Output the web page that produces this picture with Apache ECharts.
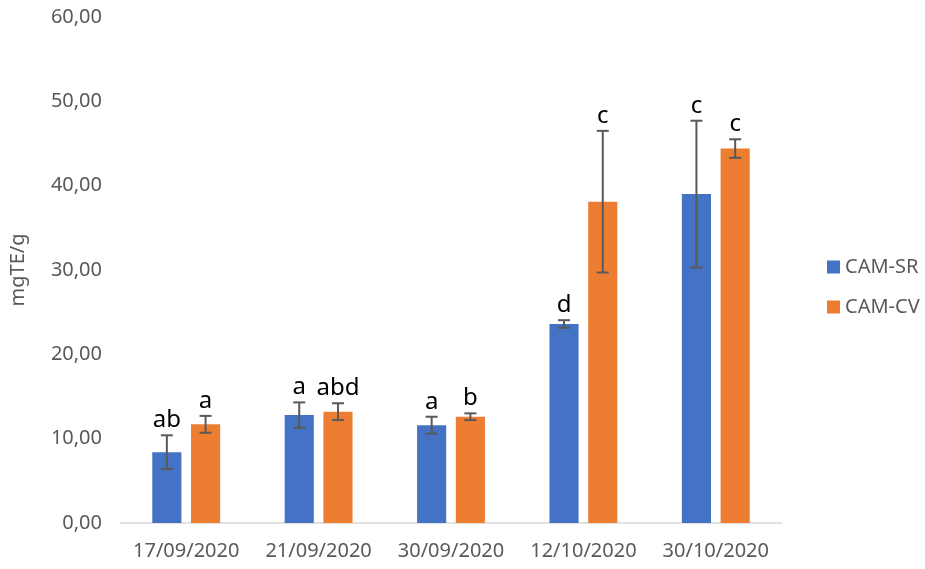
<!DOCTYPE html>
<html>
<head>
<meta charset="utf-8">
<script src="https://cdn.jsdelivr.net/npm/echarts@6/dist/echarts.min.js"></script>
<style>
  html, body { margin: 0; padding: 0; background: #fff; }
  #chart { width: 925px; height: 569px; }
</style>
</head>
<body>
<div id="chart"></div>
<script>
const categories = ["17/09/2020", "21/09/2020", "30/09/2020", "12/10/2020", "30/10/2020"];
const srValues = [8.4, 12.8, 11.6, 23.6, 39.0];
const srErrors = [2.0, 1.5, 1.0, 0.45, 8.7];
const srLetters = ["ab", "a", "a", "d", "c"];
const cvValues = [11.7, 13.2, 12.6, 38.1, 44.4];
const cvErrors = [1.0, 1.0, 0.4, 8.4, 1.1];
const cvLetters = ["a", "abd", "b", "c", "c"];

const FONT = "Noto Sans";
const BAR_W = 0.22;   // share of the category band
const BAR_GAP = 0.33; // share of a bar's width

function errorSeries(values, errors, letters, side) {
  return {
    type: "custom",
    z: 10,
    data: values.map((v, i) => [i, v, errors[i], letters[i]]),
    encode: { x: 0, y: 1 },
    renderItem: (params, api) => {
      const band = api.size([1, 0])[0];
      const bw = band * BAR_W;
      const dx = side * (bw + bw * BAR_GAP) / 2;
      const mean = api.value(1);
      const err = api.value(2);
      const top = api.coord([api.value(0), mean + err]);
      const bot = api.coord([api.value(0), mean - err]);
      const x = top[0] + dx;
      const cap = 6;
      const line = { stroke: "#595959", lineWidth: 2 };
      const letter = letters[params.dataIndex];
      return {
        type: "group",
        children: [
          { type: "line", shape: { x1: x, y1: top[1], x2: x, y2: bot[1] }, style: line },
          { type: "line", shape: { x1: x - cap, y1: top[1], x2: x + cap, y2: top[1] }, style: line },
          { type: "line", shape: { x1: x - cap, y1: bot[1], x2: x + cap, y2: bot[1] }, style: line },
          {
            type: "text",
            x: x,
            y: top[1] - 3,
            style: {
              text: letter,
              fill: "#000",
              font: "24px " + FONT,
              align: "center",
              verticalAlign: "bottom"
            }
          }
        ]
      };
    }
  };
}

const chart = echarts.init(document.getElementById("chart"));
chart.setOption({
  animation: false,
  textStyle: { fontFamily: FONT },
  grid: { left: 120, right: 143, top: 17, bottom: 46 },
  legend: {
    data: ["CAM-SR", "CAM-CV"],
    orient: "vertical",
    left: 822,
    top: 252,
    itemWidth: 13,
    itemHeight: 13,
    itemGap: 20,
    icon: "rect",
    textStyle: { color: "#595959", fontSize: 20, fontFamily: FONT }
  },
  xAxis: {
    type: "category",
    data: categories,
    axisLine: { lineStyle: { color: "#d9d9d9", width: 1.5 } },
    axisTick: { show: false },
    axisLabel: { color: "#595959", fontSize: 20, margin: 18, interval: 0 }
  },
  yAxis: {
    type: "value",
    min: 0,
    max: 60,
    interval: 10,
    name: "mgTE/g",
    nameLocation: "middle",
    nameGap: 92,
    nameTextStyle: { color: "#595959", fontSize: 20 },
    axisLine: { show: false },
    axisTick: { show: false },
    splitLine: { show: false },
    axisLabel: {
      color: "#595959",
      fontSize: 20,
      margin: 18,
      formatter: (v) => v.toFixed(2).replace(".", ",")
    }
  },
  series: [
    {
      name: "CAM-SR",
      type: "bar",
      data: srValues,
      barWidth: (BAR_W * 100) + "%",
      barGap: (BAR_GAP * 100) + "%",
      itemStyle: { color: "#4472C4" }
    },
    {
      name: "CAM-CV",
      type: "bar",
      data: cvValues,
      barWidth: (BAR_W * 100) + "%",
      barGap: (BAR_GAP * 100) + "%",
      itemStyle: { color: "#ED7D31" }
    },
    errorSeries(srValues, srErrors, srLetters, -1),
    errorSeries(cvValues, cvErrors, cvLetters, 1)
  ]
});
</script>
</body>
</html>
